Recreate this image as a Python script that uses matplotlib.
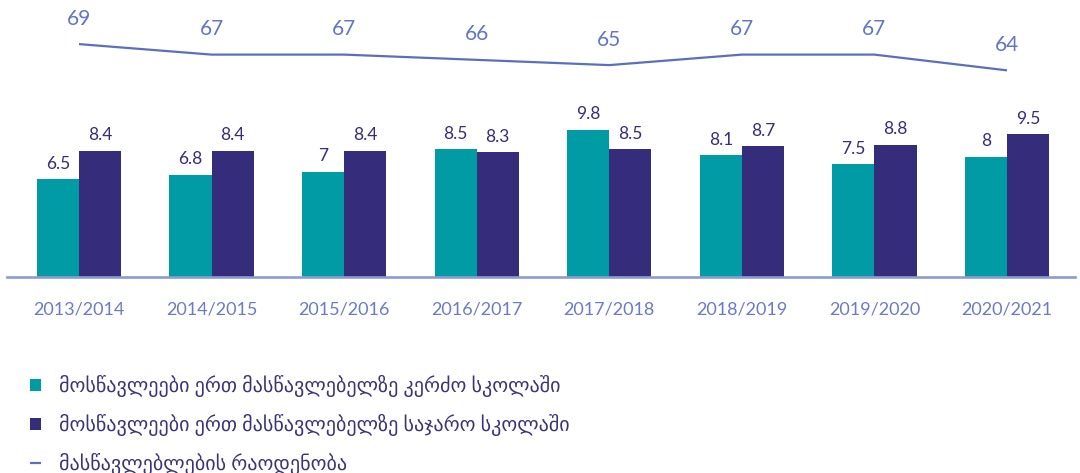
"""Students per teacher (private vs public schools) and number of teachers, 2013-2021."""

import matplotlib

matplotlib.use("Agg")
import matplotlib.pyplot as plt
import numpy as np

years = [
    "2013/2014", "2014/2015", "2015/2016", "2016/2017",
    "2017/2018", "2018/2019", "2019/2020", "2020/2021",
]
private_ratio = [6.5, 6.8, 7, 8.5, 9.8, 8.1, 7.5, 8]
public_ratio = [8.4, 8.4, 8.4, 8.3, 8.5, 8.7, 8.8, 9.5]
teachers = [69, 67, 67, 66, 65, 67, 67, 64]

label_private = "მოსწავლეები ერთ მასწავლებელზე კერძო სკოლაში"
label_public = "მოსწავლეები ერთ მასწავლებელზე საჯარო სკოლაში"
label_teachers = "მასწავლებლების რაოდენობა"

TEAL = "#009ba5"
PURPLE = "#352c7b"
LINE = "#5a70bf"
AXIS = "#8d9bd5"
TICK = "#6a7bc6"
FONTS = ["Lato", "DejaVu Sans"]

plt.rcParams["font.family"] = FONTS

fig = plt.figure(figsize=(10.8, 4.73), dpi=100)
ax = fig.add_axes([7 / 1080, 1 - 276.7 / 473, 1068 / 1080, 276.7 / 473])
ax2 = ax.twinx()

x = np.arange(len(years))
w = 0.318
b1 = ax.bar(x - w / 2, private_ratio, w, color=TEAL, label=label_private, zorder=1)
b2 = ax.bar(x + w / 2, public_ratio, w, color=PURPLE, label=label_public, zorder=1)
ax.bar_label(b1, labels=[f"{v:g}" for v in private_ratio], padding=5.5,
             fontsize=12.5, color=PURPLE)
ax.bar_label(b2, labels=[f"{v:g}" for v in public_ratio], padding=5.5,
             fontsize=12.5, color=PURPLE)

ln, = ax2.plot(x, teachers, color=LINE, lw=1.6, label=label_teachers,
               solid_capstyle="butt")
for xi, v in zip(x, teachers):
    ax2.annotate(f"{v}", (xi, v), xytext=(0, 14), textcoords="offset points",
                 ha="center", va="baseline", fontsize=15, color="#6176c4")

ax.set_xlim(-0.543, 7.513)
ax.set_ylim(0, 18.45)
ax2.set_ylim(24.7, 77.4)

ax.set_xticks(x)
ax.set_xticklabels(years, fontsize=13, color=TICK)
ax.tick_params(axis="x", length=0, pad=17.5)
ax.set_yticks([])
ax2.set_yticks([])
for s in ["top", "left", "right"]:
    ax.spines[s].set_visible(False)
for s in ax2.spines.values():
    s.set_visible(False)
ax.spines["bottom"].set_color(AXIS)
ax.spines["bottom"].set_linewidth(1.9)

fig.legend(
    handles=[b1, b2, ln],
    loc="upper left",
    bbox_to_anchor=(30 / 1080, 1 - 375 / 473),
    frameon=False,
    fontsize=14.5,
    labelcolor="#3b3577",
    handlelength=0.55,
    handleheight=0.55,
    handletextpad=0.9,
    labelspacing=0.83,
    borderpad=0,
    borderaxespad=0,
)

fig.savefig("out.png", dpi=100)
